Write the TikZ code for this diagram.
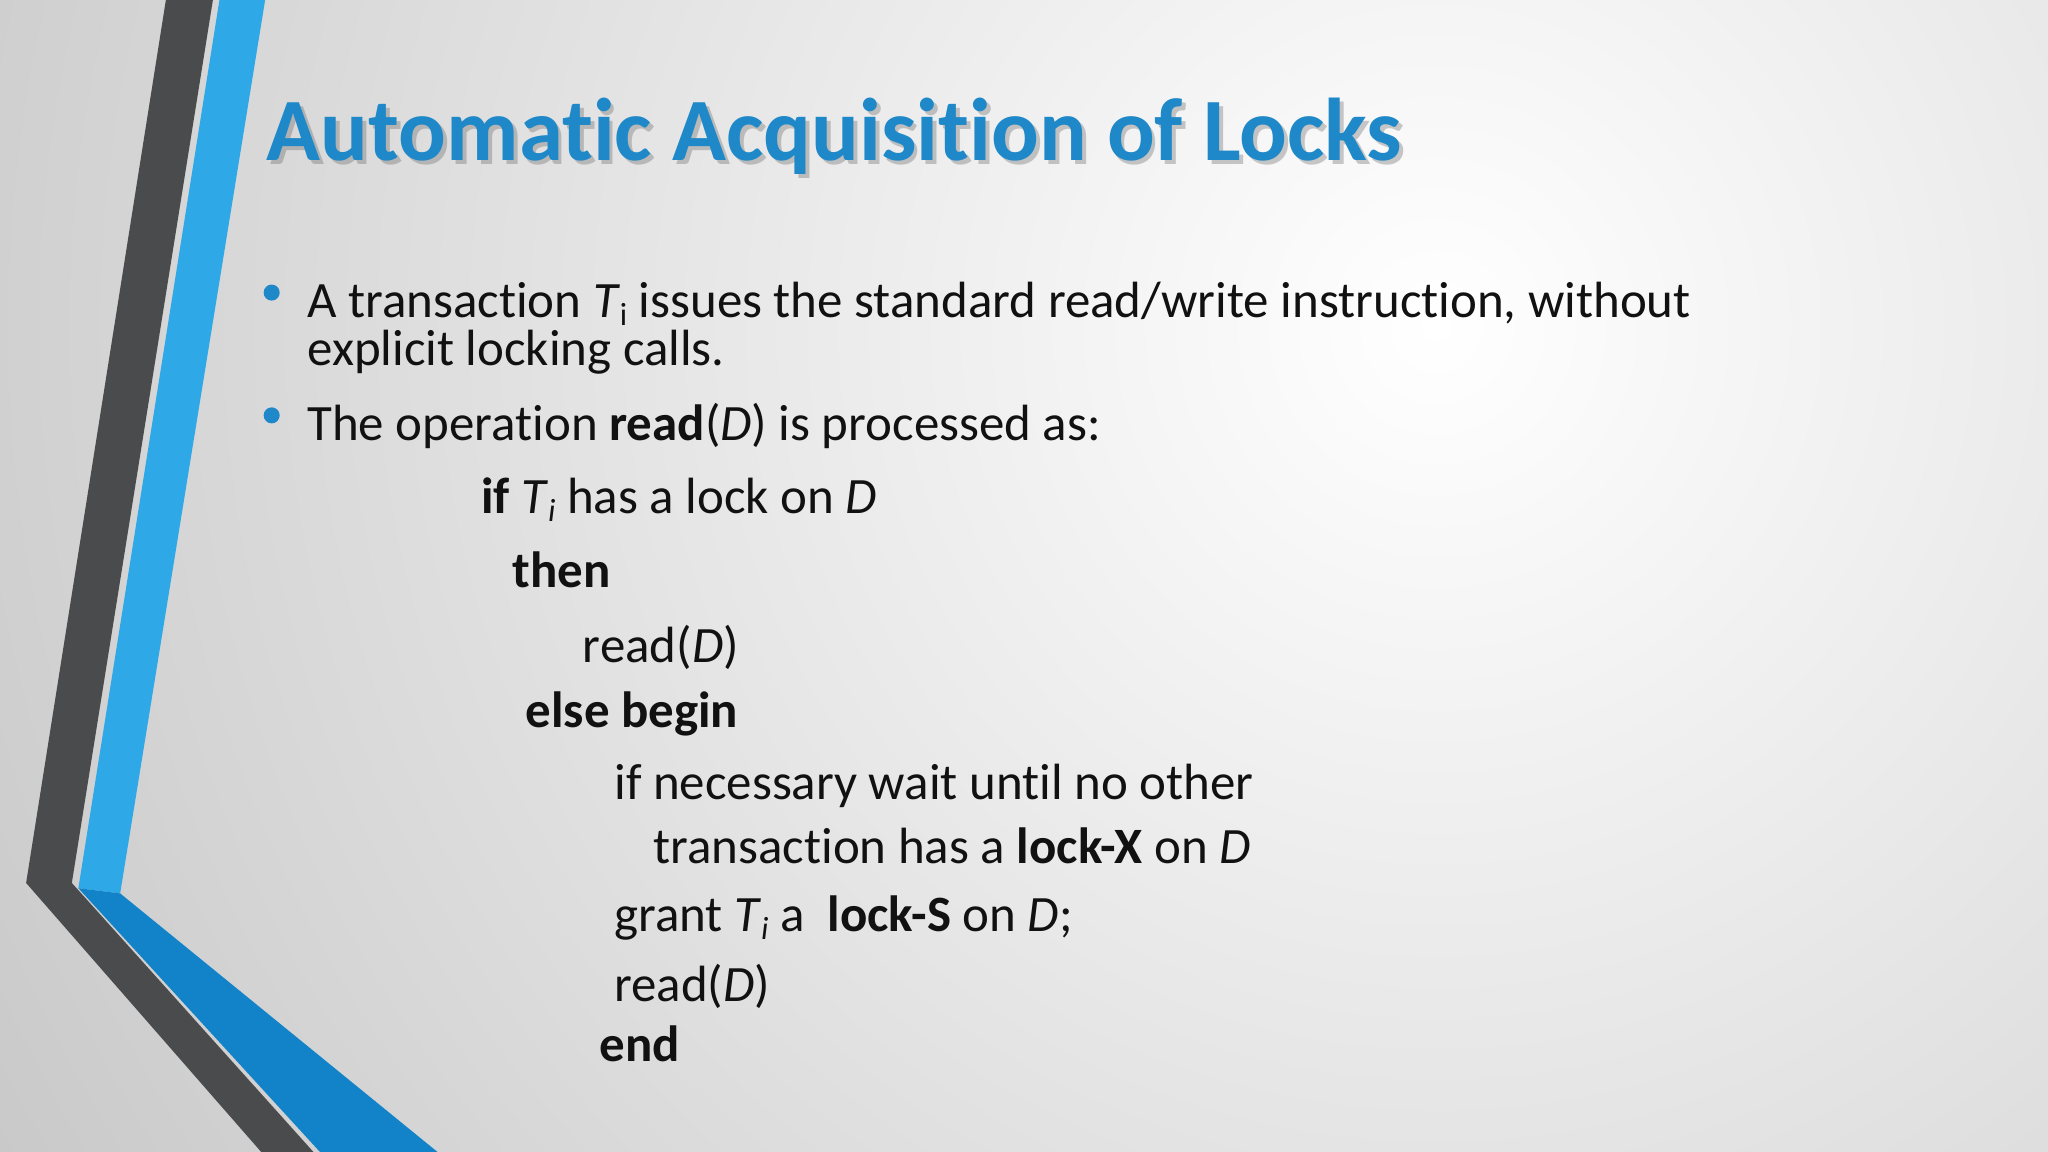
\documentclass[tikz,border=0pt]{standalone}
\usepackage{fontspec}
\setmainfont[Ligatures=NoCommon]{Carlito}
\definecolor{titleblue}{HTML}{1E88C8}
\definecolor{stripeblue}{HTML}{2FA8E8}
\definecolor{stripeblue2}{HTML}{1283C8}
\definecolor{stripegray}{HTML}{4A4B4D}
\definecolor{txt}{HTML}{111111}
\begin{document}
\begin{tikzpicture}[x=0.02cm,y=-0.02cm,
  body/.style={anchor=base west,inner sep=0pt,font=\fontsize{22.2}{26}\selectfont,text=txt},
  bul/.style={circle,fill=titleblue,inner sep=0pt,minimum size=7pt}]
\useasboundingbox (0,0) rectangle (1568,882);
\shade[inner color=white,outer color=gray!50] (1100,250) circle (1500);
% stripes
\fill[stripegray] (127,0) -- (163,0) -- (55,676) -- (240,882) -- (200,882) -- (20,676) -- cycle;
\fill[stripeblue] (168,0) -- (203,0) -- (92,684) -- (60,680) -- cycle;
\fill[stripeblue2] (60,680) -- (92,684) -- (335,882) -- (245,882) -- cycle;
% title
\node[anchor=base west,inner sep=0pt,font=\fontsize{38.8}{42}\selectfont\bfseries,text=black!60,opacity=0.35] at (207,126) {Automatic Acquisition of Locks};
\node (title)[anchor=base west,inner sep=0pt,font=\fontsize{38.8}{42}\selectfont\bfseries,text=titleblue] at (204,123) {Automatic Acquisition of Locks};
\node (b1)[bul] at (208,224) {};
\node (b2)[bul] at (208,318) {};
\node (l1)[body] at (235,243) {A transaction \textit{T}\raisebox{-0.35ex}{\fontsize{14}{15}\selectfont i} issues the standard read/write instruction, without};
\node (l2)[body] at (235,280) {explicit locking calls.};
\node (l3)[body] at (235,337) {The operation \textbf{read}(\textit{D}) is processed as:};
\node (c1)[body] at (368,393) {\textbf{if} \textit{T}\raisebox{-0.35ex}{\fontsize{14}{15}\selectfont\itshape i} has a lock on \textit{D}};
\node (c2)[body] at (392,450) {\textbf{then}};
\node (c3)[body] at (446,507) {read(\textit{D})};
\node (c4)[body] at (402,557) {\textbf{else begin}};
\node (c5)[body] at (470,612) {if necessary wait until no other};
\node (c6)[body] at (500,661) {transaction has a \textbf{lock-X} on \textit{D}};
\node (c7)[body] at (470,713) {grant \textit{T}\raisebox{-0.35ex}{\fontsize{14}{15}\selectfont\itshape i} a\ \ \textbf{lock-S} on \textit{D};};
\node (c8)[body] at (470,767) {read(\textit{D})};
\node (c9)[body] at (459,813) {\textbf{end}};
\end{tikzpicture}
\end{document}
